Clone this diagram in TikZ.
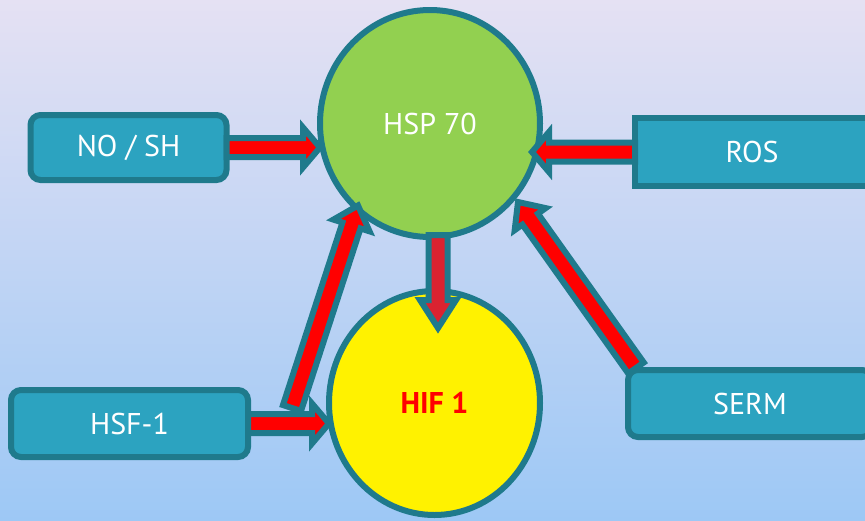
\documentclass[tikz,border=0pt]{standalone}
\usepackage{fontspec}
\setmainfont{PT Sans}
\usetikzlibrary{calc,positioning,shapes.geometric}
\definecolor{bgtop}{HTML}{E5E1F3}
\definecolor{bgbot}{HTML}{9DC8F5}
\definecolor{hspgreen}{HTML}{92D050}
\definecolor{edgeteal}{HTML}{1F7A8C}
\definecolor{boxfill}{HTML}{2CA3C0}
\definecolor{arrowred}{HTML}{FF0000}
\definecolor{darkred}{HTML}{DA2330}

% block arrow: tail, tip, head half width, head length
\newcommand{\blockarrow}[5][]{%
  \coordinate (hb) at ($(#3)!#5!(#2)$);
  \draw[arrowbody,#1] ($(#2)!9.5pt!90:(#3)$) -- ($(hb)!9.5pt!90:(#3)$)
    -- ($(hb)!#4!90:(#3)$) -- (#3) -- ($(hb)!#4!-90:(#3)$)
    -- ($(hb)!9.5pt!-90:(#3)$) -- ($(#2)!9.5pt!-90:(#3)$) -- cycle;}

\begin{document}
\begin{tikzpicture}[x=1pt,y=-1pt,
  every node/.style={outer sep=0pt,inner sep=0pt,font=\fontsize{30}{33}\selectfont},
  bubble/.style={ellipse,draw=edgeteal,line width=6pt},
  factor/.style={rectangle,draw=edgeteal,fill=boxfill,line width=6pt,text=white},
  arrowbody/.style={draw=edgeteal,fill=arrowred,line width=6pt,line join=miter}]
  \fill[top color=bgtop,bottom color=bgbot] (0,0) rectangle (865,520);
  \useasboundingbox (0,0) rectangle (865,520);

  \node[bubble,fill=hspgreen,minimum width=220pt,minimum height=227pt,text=white] (hsp) at (430,123.5) {HSP 70};
  \node[bubble,fill=yellow,minimum width=211pt,minimum height=224pt,text=arrowred,font=\fontsize{30}{33}\selectfont\bfseries] (hif) at (434.5,403) {HIF 1};

  \node[factor,rounded corners=10pt,minimum width=196pt,minimum height=65pt] (nosh) at (128.5,147.5) {NO / SH};
  \node[factor,minimum width=234pt,minimum height=68pt] (ros) at (752,152) {ROS};
  \node[factor,rounded corners=10pt,minimum width=237pt,minimum height=67pt] (hsf) at (129.5,423.5) {HSF-1};
  \node[factor,rounded corners=10pt,minimum width=244pt,minimum height=67pt] (serm) at (750,403.5) {SERM};

  \coordinate (hspTipL) at (nosh.east -| hsp.west);
  \coordinate (hspTipR) at ($(ros.west -| hsp.east)+(-8,0)$);
  \coordinate (downTail) at ($(hsp.south)+(8,-2)$);
  \coordinate (downTip) at ($(hsp.south)+(8,91)$);
  \coordinate (hifTip) at (hsf.east -| hif.west);
  \coordinate (diagTailL) at ($(hsf.north east)+(44,18)$);
  \coordinate (diagTipL) at ($(hsp.center)+(-72,82)$);
  \coordinate (diagTailR) at ($(serm.north west)+(8,-2)$);
  \coordinate (diagTipR) at ($(hsp.center)+(88,78.5)$);

  \blockarrow{nosh.east}{hspTipL}{20pt}{17pt}
  \blockarrow{ros.west}{hspTipR}{20pt}{17pt}
  \blockarrow[fill=darkred]{downTail}{downTip}{18pt}{28pt}
  \blockarrow{hsf.east}{hifTip}{20pt}{17pt}
  \blockarrow{diagTailL}{diagTipL}{19pt}{21pt}
  \blockarrow{diagTailR}{diagTipR}{19pt}{21pt}
\end{tikzpicture}
\end{document}
